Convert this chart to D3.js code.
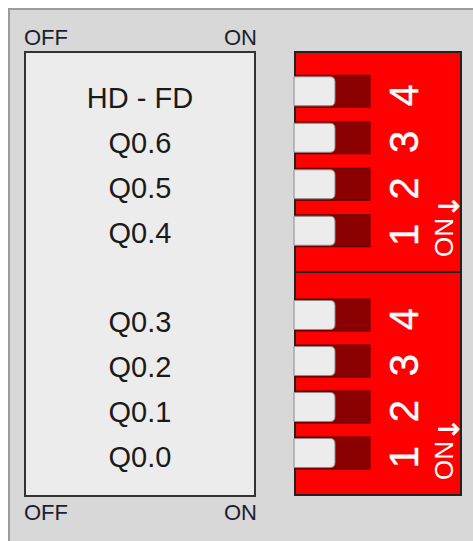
<!DOCTYPE html>
<html>
<head>
<meta charset="utf-8">
<script src="https://cdn.jsdelivr.net/npm/d3@7"></script>
<style>
	body { margin: 0; background: #fff; }
	text { font-family: "Liberation Sans", Arial, sans-serif; }
</style>
</head>
<body>
<svg id="DipSvg" width="473" height="541"></svg>
<script>
// labels in the left panel, the empty one is the gap between the two groups
var rowLabels = ["HD - FD", "Q0.6", "Q0.5", "Q0.4", "", "Q0.3", "Q0.2", "Q0.1", "Q0.0"];
var switchNumbers = [4, 3, 2, 1];
// 0 = OFF, 1 = ON, upper block then lower block
var upperStates = [0, 0, 0, 0];
var lowerStates = [0, 0, 0, 0];
var sideLabels = ["OFF", "ON"];

var svg = d3.select("#DipSvg");

// outer grey frame
svg.append("rect")
	.attr("x", 9).attr("y", 9)
	.attr("width", 480).attr("height", 560)
	.attr("fill", "#d8d8d8")
	.attr("stroke", "#9c9c9c")
	.attr("stroke-width", 2);

// label panel
var panelX = d3.scaleLinear().domain([0, 1]).range([25, 255]);
svg.append("rect")
	.attr("x", panelX(0)).attr("y", 52)
	.attr("width", panelX(1) - panelX(0)).attr("height", 444)
	.attr("fill", "#ececec")
	.attr("stroke", "#333")
	.attr("stroke-width", 2);

[45, 520].forEach(function(y) {
	svg.selectAll(null)
		.data(sideLabels)
		.enter()
		.append("text")
		.attr("x", function(d, i) { return panelX(i) + (i == 0 ? -1 : 2); })
		.attr("y", y)
		.attr("text-anchor", function(d, i) { return i == 0 ? "start" : "end"; })
		.attr("font-size", 22)
		.attr("fill", "#1e1e2e")
		.text(function(d) { return d; });
});

var rowY = d3.scalePoint().domain(d3.range(rowLabels.length)).range([108, 467]);
svg.selectAll(".rowLabel")
	.data(rowLabels)
	.enter()
	.append("text")
	.attr("class", "rowLabel")
	.attr("x", (panelX(0) + panelX(1)) / 2)
	.attr("y", function(d, i) { return rowY(i); })
	.attr("text-anchor", "middle")
	.attr("font-size", 29)
	.attr("fill", "#1a1a1a")
	.text(function(d) { return d; });

// switch blocks
var blocks = [
	{ top: 52, height: 220, states: upperStates, range: [68, 254] },
	{ top: 272, height: 223, states: lowerStates, range: [292, 476] }
];
var knobX = d3.scaleLinear().domain([0, 1]).range([294, 329]);

blocks.forEach(function(b) {
	var g = svg.append("g");
	var slotY = d3.scaleBand().domain(switchNumbers).range(b.range);

	g.append("rect")
		.attr("x", 295).attr("y", b.top)
		.attr("width", 166).attr("height", b.height)
		.attr("fill", "#ff0000")
		.attr("stroke", "#222")
		.attr("stroke-width", 2);

	g.selectAll(".slot")
		.data(switchNumbers)
		.enter()
		.append("rect")
		.attr("class", "slot")
		.attr("x", 295)
		.attr("y", function(d) { return slotY(d) + slotY.bandwidth() / 2 - 16; })
		.attr("width", 75).attr("height", 32)
		.attr("fill", "#8b0000")
		.attr("stroke", "#5a0000")
		.attr("stroke-width", 1);

	g.selectAll(".knob")
		.data(switchNumbers)
		.enter()
		.append("path")
		.attr("class", "knob")
		.attr("d", function(d, i) {
			var x = knobX(b.states[i]), y = slotY(d) + slotY.bandwidth() / 2 - 14.5;
			var w = 41, h = 29, r = 5;
			return "M" + x + "," + y + "h" + (w - r) + "q" + r + ",0 " + r + "," + r +
				"v" + (h - 2 * r) + "q0," + r + " -" + r + "," + r + "h-" + (w - r) + "z";
		})
		.attr("fill", "#ececec")
		.attr("stroke", "#8a8a8a")
		.attr("stroke-width", 1);

	g.selectAll(".num")
		.data(switchNumbers)
		.enter()
		.append("text")
		.attr("class", "num")
		.attr("transform", function(d) {
			return "translate(418," + (slotY(d) + slotY.bandwidth() / 2 + 4) + ") rotate(-90)";
		})
		.attr("text-anchor", "middle")
		.attr("font-size", 40)
		.attr("fill", "#fff")
		.attr("stroke", "#fff")
		.attr("stroke-width", 0.4)
		.text(function(d) { return d; });

	var on = g.append("text")
		.attr("transform", "translate(453," + (b.top + b.height - 15) + ") rotate(-90)")
		.attr("font-size", 26)
		.attr("fill", "#fff");
	on.append("tspan").text("ON");
	on.append("tspan")
		.attr("dx", 0)
		.attr("dy", 6)
		.style("font-family", "'DejaVu Sans', sans-serif")
		.attr("font-size", 28)
		.attr("stroke", "#fff")
		.attr("stroke-width", 0.6)
		.text("\u2193");
});
</script>
</body>
</html>
